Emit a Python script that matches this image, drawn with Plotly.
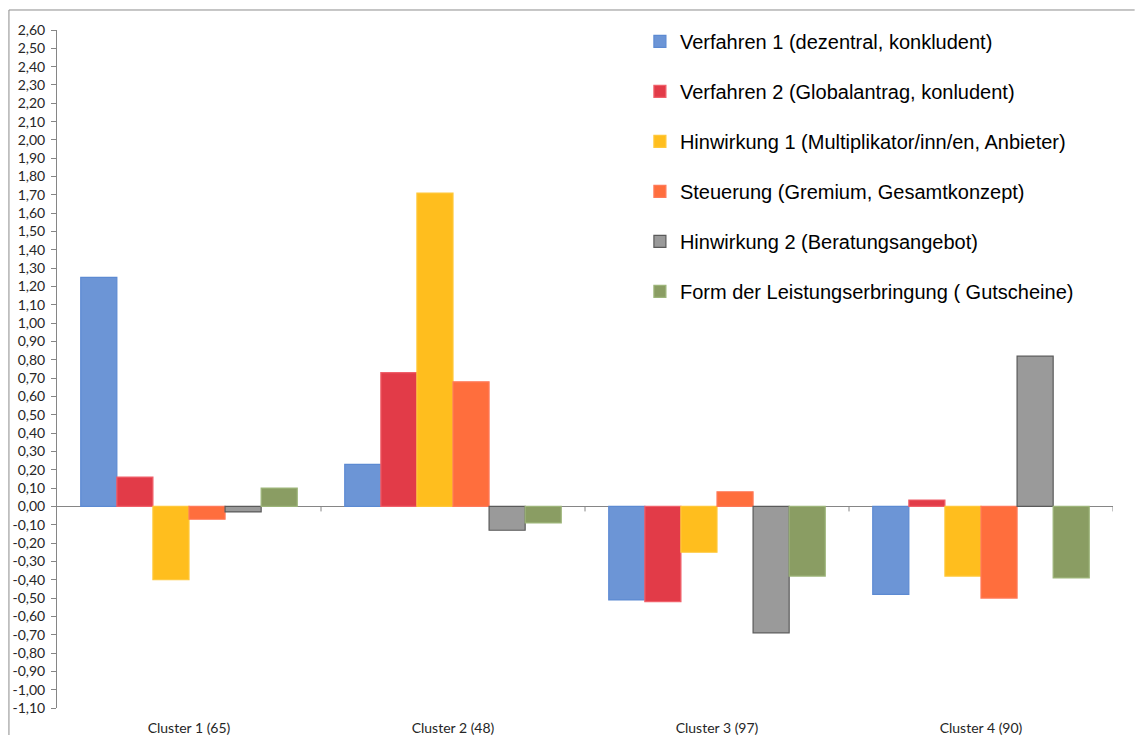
import plotly.graph_objects as go

# Cluster categories (x axis)
categories = ["Cluster 1 (65)", "Cluster 2 (48)", "Cluster 3 (97)", "Cluster 4 (90)"]

# Series values per cluster
verfahren_1 = [1.25, 0.23, -0.51, -0.48]
verfahren_2 = [0.16, 0.73, -0.52, 0.035]
hinwirkung_1 = [-0.40, 1.71, -0.25, -0.38]
steuerung = [-0.07, 0.68, 0.08, -0.50]
hinwirkung_2 = [-0.03, -0.13, -0.69, 0.82]
leistungsform = [0.10, -0.09, -0.38, -0.39]

series_names = [
    "Verfahren 1 (dezentral, konkludent)",
    "Verfahren 2 (Globalantrag, konludent)",
    "Hinwirkung 1 (Multiplikator/inn/en, Anbieter)",
    "Steuerung (Gremium, Gesamtkonzept)",
    "Hinwirkung 2 (Beratungsangebot)",
    "Form der Leistungserbringung ( Gutscheine)",
]
series_values = [verfahren_1, verfahren_2, hinwirkung_1, steuerung, hinwirkung_2, leistungsform]

# Y axis ticks (-1,10 ... 2,60)
y_tickvals = [round(-1.1 + 0.1 * i, 2) for i in range(38)]
y_ticktext = [f"{v:.2f}".replace(".", ",") for v in y_tickvals]

fills = ["#6C95D6", "#E23B48", "#FFBE1E", "#FF6E3D", "#9A9A9A", "#8A9D63"]
borders = ["#5C8AD2", "#F0606A", "#FFC83A", "#FF7A5A", "#5A5A5A", "#9DB57A"]

fig = go.Figure()
for i, (name, vals) in enumerate(zip(series_names, series_values)):
    fig.add_trace(go.Bar(
        x=categories,
        y=vals,
        name=name,
        legendgroup=name,
        marker=dict(color=fills[i], line=dict(color=borders[i], width=1.2)),
    ))

# Category tick marks on the zero line, at the boundaries between clusters
shapes = []
for b in [0.5, 1.5, 2.5, 3.5]:
    shapes.append(dict(
        type="line", xref="x", yref="y", x0=b, x1=b,
        ysizemode="pixel", yanchor=0, y0=0, y1=-5,
        line=dict(color="#868686", width=1),
    ))
# Outer chart frame (left and top edges)
shapes.append(dict(type="line", xref="paper", yref="paper",
                   x0=-0.0455, x1=-0.0455, y0=-0.2, y1=1.0295,
                   line=dict(color="#8C8C8C", width=1)))
shapes.append(dict(type="line", xref="paper", yref="paper",
                   x0=-0.0455, x1=1.0205, y0=1.0295, y1=1.0295,
                   line=dict(color="#8C8C8C", width=1)))

fig.update_layout(
    width=1135,
    height=735,
    margin=dict(l=57, r=22, t=30, b=27),
    paper_bgcolor="white",
    plot_bgcolor="white",
    barmode="group",
    bargap=0.18,
    bargroupgap=0,
    shapes=shapes,
    font=dict(family="Lato, sans-serif", color="#262626"),
    legend=dict(
        x=0.552, y=1.012, xanchor="left", yanchor="top",
        font=dict(family="Liberation Sans, Arial, sans-serif", size=20, color="#000000"),
        traceorder="grouped",
        tracegroupgap=21,
        itemwidth=30,
        bgcolor="rgba(0,0,0,0)",
    ),
    xaxis=dict(
        type="category",
        range=[-0.5, 3.5],
        automargin=False,
        showline=False,
        showgrid=False,
        zeroline=False,
        ticks="",
        ticklabelstandoff=10,
        tickfont=dict(family="Lato, sans-serif", size=14, color="#262626"),
    ),
    yaxis=dict(
        range=[-1.1, 2.6],
        automargin=False,
        tickvals=y_tickvals,
        ticktext=y_ticktext,
        showgrid=False,
        showline=True,
        linecolor="#868686",
        linewidth=1,
        ticks="outside",
        ticklen=5,
        tickcolor="#868686",
        ticklabelstandoff=3,
        zeroline=True,
        zerolinecolor="#868686",
        zerolinewidth=1,
        tickfont=dict(family="Lato, sans-serif", size=14, color="#262626"),
    ),
    showlegend=True,
)

fig.write_html("out.html")
